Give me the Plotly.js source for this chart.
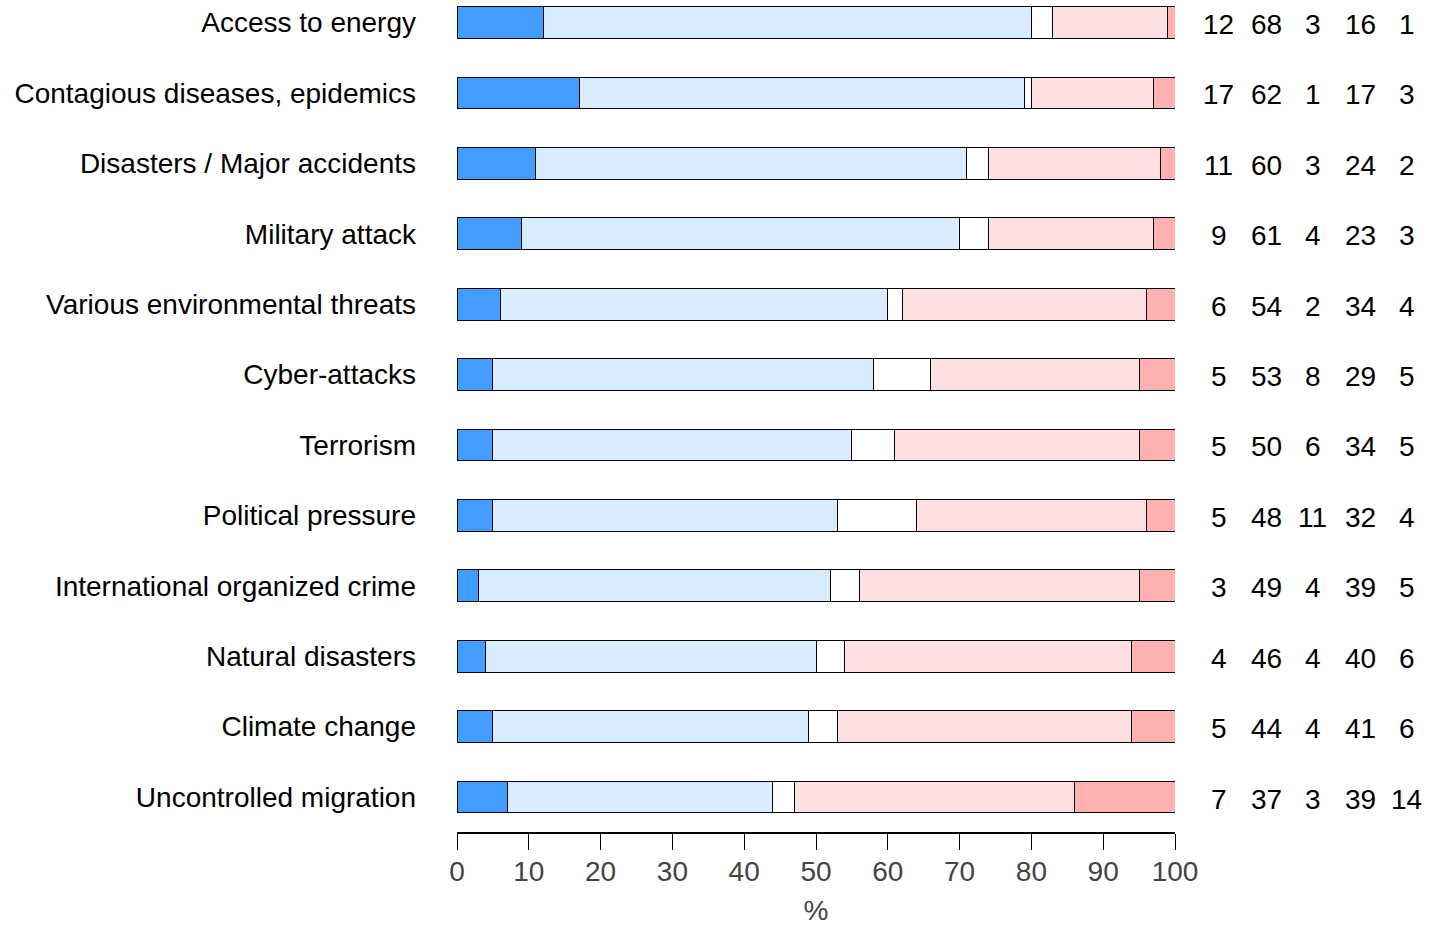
<!DOCTYPE html>
<html>
<head>
<meta charset="utf-8">
<script src="https://cdn.plot.ly/plotly-3.0.1.min.js"></script>
<style>html,body{margin:0;padding:0;background:#fff;}#chart{width:1439px;height:926px;}</style>
</head>
<body>
<div id="chart"></div>
<script>
var categories = ["Access to energy","Contagious diseases, epidemics","Disasters / Major accidents","Military attack","Various environmental threats","Cyber-attacks","Terrorism","Political pressure","International organized crime","Natural disasters","Climate change","Uncontrolled migration"];
var seriesA = [12,17,11,9,6,5,5,5,3,4,5,7];
var seriesB = [68,62,60,61,54,53,50,48,49,46,44,37];
var seriesC = [3,1,3,4,2,8,6,11,4,4,4,3];
var seriesD = [16,17,24,23,34,29,34,32,39,40,41,39];
var seriesE = [1,3,2,3,4,5,5,4,5,6,6,14];
var xTicks = [0,10,20,30,40,50,60,70,80,90,100];

var series = [seriesA, seriesB, seriesC, seriesD, seriesE];
var colors = ["#419DFF","#D9ECFF","#FFFFFF","#FFE0E2","#FFB0B0"];
var colX = [1.061, 1.127, 1.192, 1.258, 1.323];

var FONT = '"Liberation Sans", Arial, Helvetica, sans-serif';

var traces = series.map(function(s, j){
  return {
    type: 'bar', orientation: 'h',
    x: s, y: categories,
    width: 0.45,
    marker: {color: colors[j], line: {color: '#000', width: 1}},
    hoverinfo: 'skip', showlegend: false
  };
});

var annotations = [];
for (var i = 0; i < categories.length; i++) {
  for (var j = 0; j < series.length; j++) {
    annotations.push({
      x: colX[j], y: categories[i], xref: 'paper', yref: 'y',
      text: String(series[j][i]), showarrow: false,
      xanchor: 'center', yanchor: 'middle', yshift: -2,
      font: {family: FONT, size: 28, color: '#000'}
    });
  }
}

var layout = {
  width: 1439, height: 926,
  margin: {l: 457, r: 264, t: 0, b: 94, pad: 0},
  paper_bgcolor: '#fff', plot_bgcolor: '#fff',
  barmode: 'stack', bargap: 0,
  font: {family: FONT, size: 28, color: '#000'},
  xaxis: {
    range: [0, 100], tickvals: xTicks, ticktext: xTicks.map(String),
    ticks: 'outside', ticklen: 16, tickwidth: 1, tickcolor: '#000',
    showline: true, linecolor: '#000', linewidth: 2,
    showgrid: false, zeroline: false, automargin: false, fixedrange: true,
    ticklabelstandoff: -3,
    tickfont: {family: FONT, size: 28, color: '#444'},
    title: {text: '%', standoff: 17, font: {family: FONT, size: 28, color: '#444'}}
  },
  yaxis: {
    type: 'category', range: [11.497, -0.32],
    ticks: '', showline: false, showgrid: false, zeroline: false,
    automargin: false, fixedrange: true, ticklabelstandoff: 40,
    tickfont: {family: FONT, size: 28, color: '#000'}
  },
  annotations: annotations
};

Plotly.newPlot('chart', traces, layout, {displayModeBar: false, staticPlot: true});
</script>
</body>
</html>
